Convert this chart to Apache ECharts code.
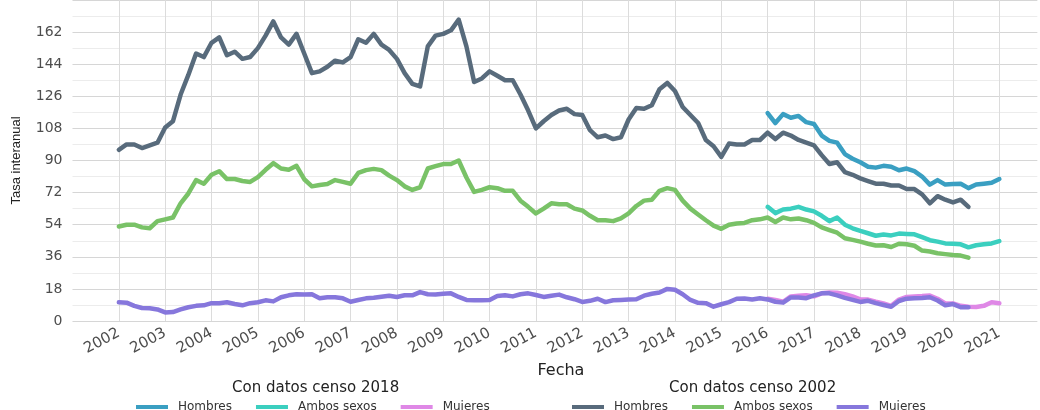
<!DOCTYPE html>
<html>
<head>
<meta charset="utf-8">
<script src="https://cdn.jsdelivr.net/npm/echarts@6/dist/echarts.min.js"></script>
<style>
  html, body { margin: 0; padding: 0; background: #fff; }
  #chart { width: 1040px; height: 410px; }
</style>
</head>
<body>
<div id="chart"></div>
<script>
// serie bimensual (cada 2 meses) desde enero del año de inicio
const inicio2002 = 2002;
const inicio2018 = 2016;
const paso = 1 / 6;

// Con datos censo 2002
const hombres2002 = [
  96, 99, 99, 97, 98.5, 100, 108.5, 112, 127, 138,
  150, 148, 156, 159, 149, 151, 147, 148, 153, 160,
  168, 159, 155, 161, 150, 139, 140, 142.6, 146, 145,
  148, 158, 156, 161, 155, 152, 147, 139, 133, 131.5,
  154, 160, 161, 163, 169, 154, 134, 136, 140, 137.5,
  135, 135, 127, 118, 108, 112, 115.5, 118, 119, 116,
  115.5, 107, 103, 104, 102, 103, 113, 119.4, 119, 121,
  130, 133.5, 129, 120, 115.5, 111, 101.5, 98, 92, 99.5,
  99, 99, 101.5, 101.5, 105.6, 102, 105.6, 104, 101.5, 100,
  98.5, 93, 88, 89, 83.5, 82, 80, 78.5, 77, 77,
  76, 76, 74, 74, 71, 66, 70, 68, 66.5, 68,
  64
];
const ambos2002 = [
  53, 54, 54, 52.5, 52, 56, 57, 58, 66, 71.5,
  79, 77, 82, 84, 79.6, 79.6, 78.5, 78, 80.7, 84.8,
  88.5, 85.5, 84.8, 87, 79.5, 75.5, 76.3, 76.8, 79, 78,
  77, 83, 84.6, 85.3, 84.6, 81.5, 79, 75.5, 73.5, 75,
  85.5, 86.8, 88, 88, 90, 80.5, 72.4, 73.5, 75, 74.5,
  73, 73, 67.5, 64, 60.3, 63, 66, 65.5, 65.5, 63,
  62, 59, 56.5, 56.5, 56, 57.5, 60.3, 64.5, 67.5, 68,
  73, 74.5, 73.5, 67.5, 63, 59.7, 56.5, 53.5, 51.7, 54,
  54.7, 55, 56.5, 57, 58, 55.5, 58, 57, 57.5, 56.5,
  55, 52.5, 51, 49.5, 46.4, 45.5, 44.5, 43.3, 42.3, 42.5,
  41.5, 43.3, 43, 42.2, 39.5, 39, 38, 37.5, 37, 36.7,
  35.5
];
const mujeres2002 = [
  10.5, 10.3, 8.5, 7.3, 7.2, 6.5, 4.8, 5, 6.5, 7.7,
  8.5, 8.8, 10, 10, 10.5, 9.5, 8.8, 10, 10.5, 11.6,
  11, 13.3, 14.4, 15, 14.8, 15, 12.8, 13.3, 13.3, 12.7,
  10.8, 11.8, 12.7, 13, 13.6, 14.2, 13.5, 14.4, 14.4, 16.2,
  15, 14.8, 15.3, 15.5, 13.5, 11.8, 11.6, 11.6, 11.8, 14,
  14.4, 13.8, 15, 15.5, 14.6, 13.5, 14.2, 14.8, 13.3, 12.2,
  10.7, 11.3, 12.5, 10.6, 11.6, 11.8, 12, 12.2, 14.2, 15.3,
  16, 18, 17.5, 15, 11.8, 10.2, 10, 8, 9.4, 10.6,
  12.5, 12.6, 12.1, 12.7, 12.1, 10.8, 10.3, 13.2, 13.2, 12.8,
  14.4, 15.5, 15.5, 14.4, 13, 11.8, 10.7, 11.3, 10, 9,
  8, 11.2, 12.5, 12.7, 12.9, 13.3, 11.5, 8.8, 9.5, 7.7,
  7.7
];

// Con datos censo 2018
const hombres2018 = [
  116.6, 111, 116, 114, 115, 111.5, 110.5, 104, 101, 100,
  93.6, 91, 89, 86.5, 86, 87, 86.5, 84.5, 85.5, 84,
  81, 76.5, 79, 76.5, 76.8, 77, 74.5, 76.5, 77, 77.5,
  79.6
];
const ambos2018 = [
  64, 60.5, 62.5, 63, 64, 62.5, 61.5, 59, 56, 58,
  54, 52, 50.5, 49.2, 47.8, 48.5, 48, 49, 48.8, 48.6,
  47, 45.3, 44.5, 43.5, 43.3, 43, 41.3, 42.5, 43, 43.5,
  44.8
];
const mujeres2018 = [
  12.5, 11.8, 10.8, 13.8, 14.2, 14.5, 13.8, 15.5, 16, 15.8,
  15, 13.8, 12.2, 12, 10.8, 9.8, 8.5, 12, 13.5, 13.8,
  14, 14.3, 12.5, 9.8, 9.8, 8.5, 8, 7.8, 8.5, 10.5,
  10
];

const tickYears = [2002, 2021];   // primera y última etiqueta del eje x
const yTicks = [0, 162, 18];      // min, max, paso del eje y

const colores = {
  'Hombres 2018': '#3a9fc2',
  'Ambos sexos 2018': '#3bcfbf',
  'Mujeres 2018': '#df88e6',
  'Hombres 2002': '#586b7c',
  'Ambos sexos 2002': '#79c267',
  'Mujeres 2002': '#8677dc'
};

function pares(valores, inicio) {
  return valores.map((v, i) => [inicio + i * paso, v]);
}

function linea(nombre, valores, inicio) {
  return {
    name: nombre,
    type: 'line',
    data: pares(valores, inicio),
    showSymbol: false,
    silent: true,
    itemStyle: { color: colores[nombre] },
    lineStyle: { color: colores[nombre], width: 4.5, cap: 'round', join: 'round' }
  };
}

const fuente = 'DejaVu Sans';
const gris = '#4d4d4d';

const myChart = echarts.init(document.getElementById('chart'), null, { renderer: 'canvas' });

const option = {
  animation: false,
  backgroundColor: '#ffffff',
  title: [
    { text: 'Con datos censo 2018', left: 227, top: 376,
      textStyle: { fontFamily: fuente, fontSize: 15, fontWeight: 'normal', color: '#222' } },
    { text: 'Con datos censo 2002', left: 664, top: 376,
      textStyle: { fontFamily: fuente, fontSize: 15, fontWeight: 'normal', color: '#222' } }
  ],
  legend: [
    {
      data: ['Hombres 2018', 'Ambos sexos 2018', 'Mujeres 2018'],
      left: 131, top: 396, icon: 'rect', itemWidth: 32, itemHeight: 4, itemGap: 24,
      formatter: n => n.slice(0, -5),
      textStyle: { fontFamily: fuente, fontSize: 12, color: '#333', padding: [0, 0, 0, 5] }
    },
    {
      data: ['Hombres 2002', 'Ambos sexos 2002', 'Mujeres 2002'],
      left: 567, top: 396, icon: 'rect', itemWidth: 32, itemHeight: 4, itemGap: 24,
      formatter: n => n.slice(0, -5),
      textStyle: { fontFamily: fuente, fontSize: 12, color: '#333', padding: [0, 0, 0, 5] }
    }
  ],
  grid: { left: 72.5, right: 0, top: -4.6, bottom: 89, containLabel: false },
  xAxis: {
    type: 'value',
    min: tickYears[0] - 1,
    max: 2021.82,
    interval: 1,
    name: 'Fecha',
    nameLocation: 'middle',
    nameGap: 38,
    nameTextStyle: { fontFamily: fuente, fontSize: 16, color: '#222', padding: [0, 0, 0, 12] },
    axisLine: { show: false },
    axisTick: { show: false },
    axisLabel: {
      rotate: 28,
      margin: 11,
      fontFamily: fuente,
      fontSize: 15,
      color: gris,
      showMinLabel: false,
      formatter: v => (Number.isInteger(v) && v >= tickYears[0] && v <= tickYears[1]) ? String(v) : ''
    },
    splitLine: { show: true, showMinLine: false, showMaxLine: false, lineStyle: { color: '#dcdcdc', width: 1 } }
  },
  yAxis: {
    type: 'value',
    min: yTicks[0],
    max: 180,
    interval: yTicks[2],
    name: 'Tasa interanual',
    nameLocation: 'middle',
    nameGap: 50,
    nameRotate: 90,
    nameTextStyle: { fontFamily: 'Liberation Sans', fontSize: 13, color: '#222' },
    axisLine: { show: false },
    axisTick: { show: false },
    axisLabel: {
      margin: 10,
      fontFamily: fuente,
      fontSize: 14,
      color: gris,
      showMaxLabel: false,
      formatter: v => v <= yTicks[1] ? String(v) : ''
    },
    splitLine: { show: true, lineStyle: { color: '#d6d6d6', width: 1.2 } },
    minorTick: { show: false, splitNumber: 2 },
    minorSplitLine: { show: true, lineStyle: { color: '#ececec', width: 1 } }
  },
  // 2018 primero para que las series 2002 queden encima, como en el original
  series: [
    linea('Hombres 2018', hombres2018, inicio2018),
    linea('Ambos sexos 2018', ambos2018, inicio2018),
    linea('Mujeres 2018', mujeres2018, inicio2018),
    linea('Hombres 2002', hombres2002, inicio2002),
    linea('Ambos sexos 2002', ambos2002, inicio2002),
    linea('Mujeres 2002', mujeres2002, inicio2002)
  ]
};

myChart.setOption(option);
</script>
</body>
</html>
